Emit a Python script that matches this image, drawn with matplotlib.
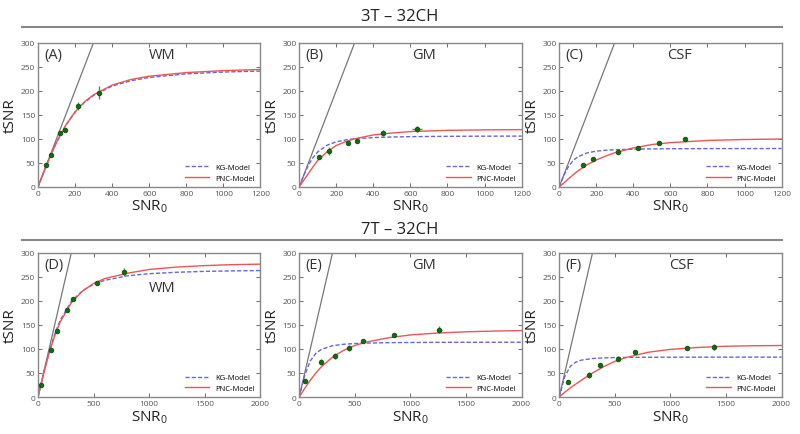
"""
tSNR vs SNR0 for WM / GM / CSF at 3T and 7T (32-channel coil),
measured points with KG-model and PNC-model fits.
"""

import matplotlib

matplotlib.use("Agg")
import matplotlib.pyplot as plt

plt.rcParams["font.family"] = ["Open Sans", "DejaVu Sans"]
plt.rcParams["mathtext.default"] = "regular"

# ---- data ----
x_3t = [0, 25, 50, 75, 100, 150, 200, 250, 300, 400, 500, 600, 800, 1000, 1200]
x_7t = [0, 50, 100, 150, 200, 300, 400, 500, 600, 800, 1000, 1250, 1500, 1750, 2000]

# (A) 3T WM
a_snr0 = [45, 68, 120, 145, 218, 330]
a_tsnr = [46, 67, 111, 119, 168, 196]
a_yerr = [3, 3, 3, 3, 9, 14]
a_xerr = [2, 2, 4, 4, 5, 8]
a_kg = [0, 24.9, 49.0, 71.7, 92.6, 128.0, 155.1, 175.2, 190.1, 209.4, 220.5, 227.4, 234.9, 238.6, 240.7]
a_pnc = [0, 24.8, 48.8, 71.5, 92.5, 128.5, 156.0, 176.5, 191.5, 211.5, 223.0, 230.0, 237.5, 241.5, 244.0]

# (B) 3T GM
b_snr0 = [105, 160, 265, 310, 450, 635]
b_tsnr = [63, 75, 91, 96, 112, 121]
b_yerr = [4, 8, 3, 3, 7, 6]
b_xerr = [3, 4, 5, 5, 8, 25]
b_kg = [0, 24.3, 45.2, 61.2, 72.7, 86.6, 93.7, 97.6, 99.9, 102.5, 103.7, 104.4, 105.1, 105.4, 105.6]
b_pnc = [0, 14, 28, 42, 55, 73, 86, 94, 100, 108, 112, 115, 117.5, 118.5, 119]

# (C) 3T CSF
c_snr0 = [127, 180, 315, 425, 540, 680]
c_tsnr = [46, 58, 72, 81, 92, 99]
c_yerr = [3, 3, 4, 3, 3, 3]
c_xerr = [3, 3, 4, 4, 4, 4]
c_kg = [0, 23.9, 42.4, 54.7, 62.5, 70.6, 74.3, 76.2, 77.3, 78.4, 79.0, 79.3, 79.6, 79.7, 79.8]
c_pnc = [0, 8, 17, 25, 33, 46, 56, 64, 71, 81, 88, 92, 96.5, 98.5, 99.5]

# (D) 7T WM
d_snr0 = [30, 115, 175, 265, 315, 530, 770]
d_tsnr = [25, 97, 138, 180, 204, 236, 260]
d_yerr = [3, 4, 4, 4, 4, 4, 8]
d_xerr = [5, 8, 8, 8, 8, 10, 12]
d_kg = [0, 49.1, 93.6, 130.5, 159.6, 198.6, 220.9, 234.1, 242.4, 251.6, 256.2, 259.2, 261.0, 262.0, 262.7]
d_pnc = [0, 48, 91, 127, 156, 196, 220, 236, 246, 257, 265, 270, 273, 275, 276]

# (E) 7T GM
e_snr0 = [50, 195, 320, 445, 575, 850, 1260]
e_tsnr = [34, 72, 85, 102, 116, 128, 140]
e_yerr = [4, 6, 6, 7, 3, 4, 7]
e_xerr = [6, 10, 10, 10, 12, 14, 20]
e_kg = [0, 45.8, 75.2, 90.8, 99.0, 106.6, 109.6, 111.1, 112.0, 112.9, 113.3, 113.6, 113.7, 113.8, 113.9]
e_pnc = [0, 18, 35, 50, 63, 83, 97, 107, 114, 123, 129, 133, 135.5, 137, 138]

# (F) 7T CSF
f_snr0 = [80, 265, 370, 530, 680, 1145, 1390]
f_tsnr = [32, 46, 66, 80, 93, 102, 104]
f_yerr = [3, 7, 5, 6, 3, 4, 7]
f_xerr = [6, 10, 10, 12, 12, 14, 16]
f_kg = [0, 42.8, 63.9, 72.6, 76.7, 80.0, 81.3, 82.0, 82.3, 82.6, 82.7, 82.8, 82.9, 82.9, 82.9]
f_pnc = [0, 10, 19, 27, 35, 50, 63, 74, 82, 93, 99, 103, 105.5, 106.5, 107]

panels = [
    ("(A)", "WM", x_3t, a_kg, a_pnc, a_snr0, a_tsnr, a_xerr, a_yerr, 1200, (0.56, 0.92)),
    ("(B)", "GM", x_3t, b_kg, b_pnc, b_snr0, b_tsnr, b_xerr, b_yerr, 1200, (0.56, 0.92)),
    ("(C)", "CSF", x_3t, c_kg, c_pnc, c_snr0, c_tsnr, c_xerr, c_yerr, 1200, (0.54, 0.92)),
    ("(D)", "WM", x_7t, d_kg, d_pnc, d_snr0, d_tsnr, d_xerr, d_yerr, 2000, (0.56, 0.76)),
    ("(E)", "GM", x_7t, e_kg, e_pnc, e_snr0, e_tsnr, e_xerr, e_yerr, 2000, (0.56, 0.92)),
    ("(F)", "CSF", x_7t, f_kg, f_pnc, f_snr0, f_tsnr, f_xerr, f_yerr, 2000, (0.55, 0.92)),
]

ident = [0, 2000]
lefts = [0.0475, 0.374, 0.699]
bottoms = [0.568, 0.085]
w, h = 0.278, 0.332

fig = plt.figure(figsize=(8, 4.35), dpi=100)

for i, (tag, tissue, xs, kg, pnc, sx, sy, xe, ye, xmax, tpos) in enumerate(panels):
    ax = fig.add_axes([lefts[i % 3], bottoms[i // 3], w, h])
    ax.plot(ident, ident, color="#777777", lw=0.9)
    ax.plot(xs, kg, color="#6666dd", ls=(0, (3, 1.5)), lw=1.0, label="KG-Model")
    ax.plot(xs, pnc, color="#ee5555", lw=1.0, label="PNC-Model")
    ax.errorbar(sx, sy, xerr=xe, yerr=ye, fmt="o", ms=3.3, color="#0b700b",
                mec="#085008", mew=0.6, ecolor="#3d9a3d", elinewidth=1.0,
                capsize=0, zorder=5)
    ax.set_xlim(0, xmax)
    ax.set_ylim(0, 300)
    ax.set_yticks(range(0, 301, 50))
    ax.set_xticks(range(0, xmax + 1, 200 if xmax == 1200 else 500))
    ax.tick_params(direction="in", top=True, right=True, length=3, width=0.6,
                   labelsize=6, colors="#555555", pad=2)
    for s in ax.spines.values():
        s.set_color("#888888")
        s.set_linewidth(1.0)
    ax.text(0.03, 0.97, tag, transform=ax.transAxes, ha="left", va="top",
            fontsize=10.5, color="#333333")
    ax.text(tpos[0], tpos[1], tissue, transform=ax.transAxes, ha="center", va="center",
            fontsize=10.5, color="#333333")
    ax.set_ylabel("tSNR", fontsize=11, color="#222222", labelpad=2)
    ax.set_xlabel("SNR$_0$", fontsize=11, color="#222222", labelpad=1)
    ax.legend(loc="lower right", frameon=False, fontsize=5.5, handlelength=3.2,
              borderaxespad=0.3, labelspacing=0.4)

fig.text(0.5, 0.961, "3T \u2013 32CH", ha="center", va="center", fontsize=12, color="#222222")
fig.text(0.5, 0.471, "7T \u2013 32CH", ha="center", va="center", fontsize=12, color="#222222")
for yl in (0.936, 0.446):
    fig.add_artist(plt.Line2D([0.027, 0.978], [yl, yl], color="#888888", lw=1.5))

fig.savefig("out.png", dpi=100)
